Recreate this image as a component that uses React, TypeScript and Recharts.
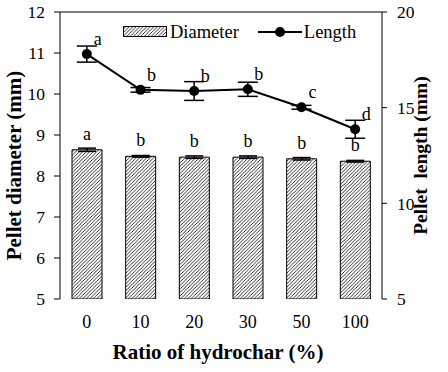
import React from 'react';
import {
  ComposedChart, Bar, Line, XAxis, YAxis, ErrorBar, LabelList, Label, Legend, ReferenceLine,
} from 'recharts';

const categories = ['0', '10', '20', '30', '50', '100'];
const diameter = [8.64, 8.48, 8.46, 8.46, 8.42, 8.36];
const diameterErr = [0.04, 0.02, 0.03, 0.03, 0.03, 0.02];
const diameterLetters = ['a', 'b', 'b', 'b', 'b', 'b'];
const lengthVals = [17.8, 15.93, 15.87, 15.96, 15.02, 13.87];
const lengthErr = [0.42, 0.12, 0.49, 0.37, 0.1, 0.47];
const lengthLetters = ['a', 'b', 'b', 'b', 'c', 'd'];
const leftTicks = [5, 6, 7, 8, 9, 10, 11, 12];
const rightTicks = [5, 10, 15, 20];
const boundaryTicks = [0, 1, 2, 3, 4, 5, 6];

const data = categories.map((c, i) => ({
  cat: c,
  d: diameter[i],
  dErr: diameterErr[i],
  dLetter: diameterLetters[i],
  l: lengthVals[i],
  lErr: lengthErr[i],
  lLetter: lengthLetters[i],
}));

const FONT = "'Liberation Serif', 'DejaVu Serif', serif";
const tickStyle = { fill: '#000', fontSize: 18, fontFamily: FONT };
const yTickStyle = { fill: '#000', fontSize: 17.5, fontFamily: FONT };

const LeftTitle = (props: any) => {
  const vb = props.viewBox || {};
  const cx = (vb.x ?? 0) + 21;
  const cy = (vb.y ?? 0) + (vb.height ?? 0) / 2 + 10;
  return (
    <text x={cx} y={cy} transform={`rotate(-90 ${cx} ${cy})`} textAnchor="middle"
      style={{ fontFamily: FONT, fontWeight: 'bold', fontSize: 21 }} fill="#000">
      Pellet diameter (mm)
    </text>
  );
};

const RightTitle = (props: any) => {
  const vb = props.viewBox || {};
  const cx = (vb.x ?? 0) + 45;
  const cy = (vb.y ?? 0) + (vb.height ?? 0) / 2;
  return (
    <text x={cx} y={cy} transform={`rotate(-90 ${cx} ${cy})`} textAnchor="middle"
      style={{ fontFamily: FONT, fontWeight: 'bold', fontSize: 19.5, whiteSpace: 'pre' }} fill="#000">
      {'Pellet  length (mm)'}
    </text>
  );
};

const BottomTitle = (props: any) => {
  const vb = props.viewBox || {};
  const cx = (vb.x ?? 0) + (vb.width ?? 0) / 2 - 3;
  const cy = (vb.y ?? 0) + 60;
  return (
    <text x={cx} y={cy} textAnchor="middle" style={{ fontFamily: FONT, fontWeight: 'bold', fontSize: 21 }} fill="#000">
      Ratio of hydrochar (%)
    </text>
  );
};

const LineLetter = (props: any) => {
  const { x, y, value } = props;
  return (
    <text x={x + 11} y={y - 9} textAnchor="middle" style={{ fontFamily: FONT, fontSize: 18 }} fill="#000">
      {value}
    </text>
  );
};

const renderLegend = () => (
  <div style={{ display: 'flex', alignItems: 'center', fontFamily: FONT, fontSize: 18.5, color: '#000', lineHeight: '20px', whiteSpace: 'nowrap' }}>
    <svg width={45} height={12}>
      <defs>
        <pattern id="hatchL" patternUnits="userSpaceOnUse" width="3.5" height="3.5">
          <path d="M-1,1 l2,-2 M0,3.5 l3.5,-3.5 M2.5,4.5 l2,-2" stroke="#000" strokeWidth="0.8" />
        </pattern>
      </defs>
      <rect x={0.5} y={0.5} width={43} height={10} fill="url(#hatchL)" stroke="#000" strokeWidth={1} />
    </svg>
    <span style={{ marginLeft: 2 }}>Diameter</span>
    <svg width={44} height={12} style={{ marginLeft: 19 }}>
      <line x1={0} y1={6} x2={44} y2={6} stroke="#000" strokeWidth={2} />
      <circle cx={22} cy={6} r={5} fill="#000" />
    </svg>
    <span style={{ marginLeft: 2 }}>Length</span>
  </div>
);

export default function App() {
  return (
    <div style={{ position: 'absolute', left: 0, top: 0, background: '#fff' }}>
      <ComposedChart width={448} height={372} data={data} margin={{ top: 12, right: 0, bottom: 0, left: 0 }}>
        <defs>
          <pattern id="hatch" patternUnits="userSpaceOnUse" width="3.5" height="3.5">
            <path d="M-1,1 l2,-2 M0,3.5 l3.5,-3.5 M2.5,4.5 l2,-2" stroke="#000" strokeWidth="0.8" />
          </pattern>
        </defs>
        <XAxis xAxisId="g" type="number" domain={[0, 6]} ticks={boundaryTicks} height={0}
          tickFormatter={() => ''} tickSize={5} stroke="#000" axisLine={{ stroke: '#000' }}
          tickLine={{ stroke: '#000' }} allowDataOverflow />
        <XAxis xAxisId="c" dataKey="cat" axisLine={false} tickLine={false} height={73}
          tick={tickStyle} tickMargin={10} interval={0}>
          <Label content={BottomTitle} />
        </XAxis>
        <YAxis yAxisId="left" domain={[5, 12]} ticks={leftTicks} width={60} tick={yTickStyle}
          axisLine={{ stroke: '#000' }} tickLine={{ stroke: '#000' }} tickSize={6} tickMargin={9}
          allowDataOverflow>
          <Label content={LeftTitle} />
        </YAxis>
        <YAxis yAxisId="right" orientation="right" domain={[5, 20]} ticks={rightTicks} width={66}
          tick={yTickStyle} axisLine={{ stroke: '#000' }} tickLine={{ stroke: '#000' }} tickSize={5}
          tickMargin={10} allowDataOverflow>
          <Label content={RightTitle} />
        </YAxis>
        <ReferenceLine yAxisId="left" xAxisId="c" y={12} stroke="#000" strokeWidth={1} />
        <Legend verticalAlign="middle" align="center" content={renderLegend}
          wrapperStyle={{ position: 'absolute', top: 22, left: 123, width: 'auto', height: 'auto' }} />
        <Bar xAxisId="c" yAxisId="left" dataKey="d" name="Diameter" barSize={30}
          fill="url(#hatch)" stroke="#000" strokeWidth={1} isAnimationActive={false}>
          <ErrorBar dataKey="dErr" width={9} stroke="#000" strokeWidth={1.5} direction="y" />
          <LabelList dataKey="dLetter" position="top" offset={10} fill="#000" fontSize={18} fontFamily={FONT} />
        </Bar>
        <Line xAxisId="c" yAxisId="right" dataKey="l" name="Length" stroke="#000" strokeWidth={2}
          dot={{ r: 5, fill: '#000', stroke: '#000', strokeWidth: 0 }} activeDot={false}
          isAnimationActive={false}>
          <ErrorBar dataKey="lErr" width={10} stroke="#000" strokeWidth={1.5} direction="y" />
          <LabelList dataKey="lLetter" content={LineLetter} />
        </Line>
      </ComposedChart>
    </div>
  );
}
